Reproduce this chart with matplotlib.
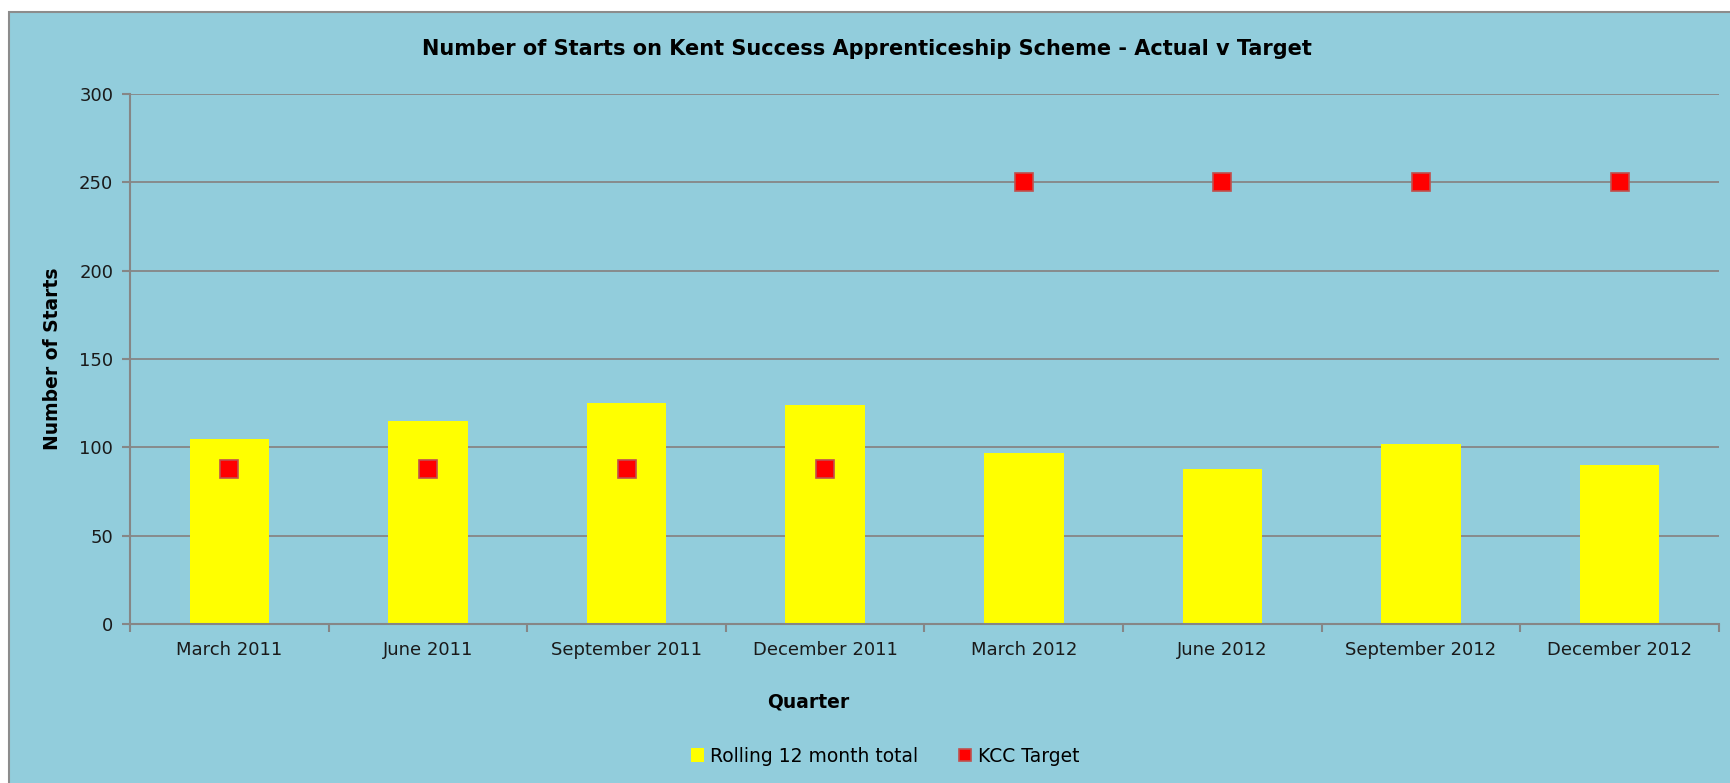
import matplotlib
matplotlib.use("Agg")
import matplotlib.pyplot as plt
from matplotlib.patches import Rectangle
import numpy as np

quarters = ["March 2011", "June 2011", "September 2011", "December 2011",
            "March 2012", "June 2012", "September 2012", "December 2012"]
rolling_total = [105, 115, 125, 124, 97, 88, 102, 90]
kcc_target = [88, 88, 88, 88, 250, 250, 250, 250]

BG = "#92CDDC"
GRID = "#868686"

plt.rcParams["font.family"] = ["DejaVu Sans"]

W, H = 1731, 783
fig = plt.figure(figsize=(W / 100, H / 100), dpi=100)
fig.patch.set_facecolor("white")

# blue chart panel with grey border
panel = Rectangle((9 / W, -0.01), 1.0, 1 - 12 / H + 0.01, transform=fig.transFigure,
                  facecolor=BG, edgecolor="#8C8C8C", linewidth=1.5, zorder=-5)
fig.patches.append(panel)

left, right, top, bottom = 130, 1719, 94, 624
ax = fig.add_axes([left / W, 1 - bottom / H, (right - left) / W, (bottom - top) / H])
ax.set_zorder(2)
ax.patch.set_alpha(0)

x = np.arange(len(quarters))
bars = ax.bar(x, rolling_total, width=0.4, color="#FFFF00", zorder=2)
pts, = ax.plot(x, kcc_target, linestyle="none", marker="s", markersize=13,
               markerfacecolor="#FF0000", markeredgecolor="#C0504D", markeredgewidth=1.2,
               zorder=3)

ax.set_xlim(-0.5, len(quarters) - 0.5)
ax.set_ylim(0, 300)
ax.set_yticks(range(0, 301, 50))
ax.yaxis.grid(True, color=GRID, linewidth=1.3, zorder=1)
ax.set_axisbelow(True)

ax.set_xticks(x)
ax.set_xticklabels(quarters, fontsize=13, color="#1a1a1a")
ax.set_xticks(np.arange(-0.5, len(quarters), 1.0), minor=True)
ax.tick_params(axis="x", which="major", length=0, pad=12)
ax.tick_params(axis="x", which="minor", length=6, width=1.5, color=GRID)
ax.tick_params(axis="y", length=6, width=1.5, color=GRID, labelsize=13, labelcolor="#1a1a1a", pad=6)

for s in ["top", "right"]:
    ax.spines[s].set_visible(False)
for s in ["left", "bottom"]:
    ax.spines[s].set_color(GRID)
    ax.spines[s].set_linewidth(1.5)

ax.set_ylabel("Number of Starts", fontsize=13.5, fontweight="bold")
ax.yaxis.set_label_coords((53 - left) / (right - left), 0.5)
ax.set_xlabel("Quarter", fontsize=13.5, fontweight="bold")
ax.xaxis.set_label_coords((808 - left) / (right - left), -(702 - bottom) / (bottom - top))
ax.xaxis.label.set_va("center")
ax.yaxis.label.set_va("center")
fig.text(867 / W, 1 - 49 / H, "Number of Starts on Kent Success Apprenticeship Scheme - Actual v Target",
         ha="center", va="center", fontsize=15, fontweight="bold")

fig.legend([bars, pts], ["Rolling 12 month total", "KCC Target"],
           loc="center", bbox_to_anchor=(885 / W, 1 - 756 / H), ncol=2, frameon=False,
           fontsize=13.5, handlelength=0.7, handleheight=0.7, handletextpad=0.3,
           columnspacing=2.2, markerscale=0.7)

fig.savefig("out.png", dpi=100, facecolor=fig.get_facecolor())
